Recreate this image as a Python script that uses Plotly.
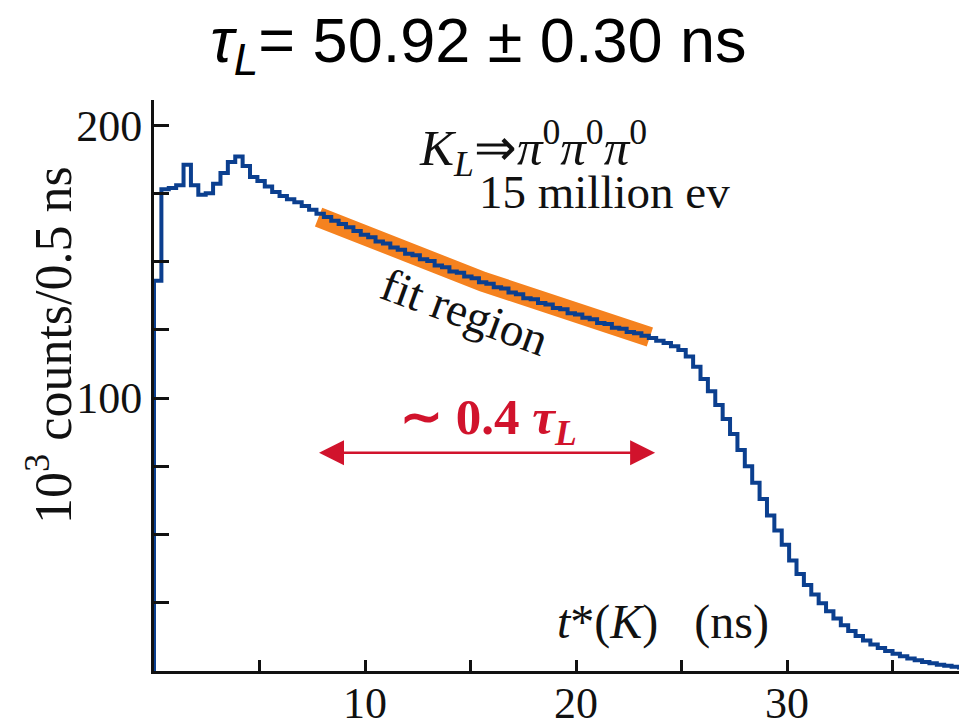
import numpy as np
import plotly.graph_objects as go

# ---------------- data ----------------
bin_width = 0.35  # ns per drawn bin
counts = [
    143.0, 176.5, 177.0, 178.0, 185.5, 178.0, 174.5, 175.0, 178.5, 182.5,
    186.5, 188.5, 185.0, 181.0, 179.5, 177.5, 175.5, 174.0, 172.8, 171.7,
    170.4, 169.0, 167.5, 166.3, 165.0, 163.8, 162.6, 161.2, 159.8, 158.9,
    157.4, 156.6, 155.2, 154.3, 152.9, 152.3, 150.9, 150.2, 148.6, 147.9,
    146.4, 145.9, 144.5, 143.9, 142.4, 141.9, 140.6, 140.1, 138.7, 138.0,
    136.6, 136.2, 134.8, 134.3, 133.0, 132.5, 131.1, 130.6, 129.4, 128.9,
    127.5, 127.1, 125.8, 125.4, 124.2, 123.7, 122.8, 122.0, 121.0, 120.2,
    119.0, 117.6, 115.2, 111.5, 107.0, 102.5, 97.5, 92.3, 86.8, 81.0,
    75.0, 69.0, 63.0, 57.0, 51.5, 46.3, 40.5, 35.5, 31.5, 28.0,
    24.8, 21.9, 19.2, 16.8, 14.7, 12.8, 11.2, 9.7, 8.4, 7.3,
    6.3, 5.4, 4.6, 3.9, 3.3, 2.8, 2.3, 1.9, 1.6, 1.3,
    1.1,
]

# exponential fit band (ns, 10^3 counts)
fit_t = [7.8, 15.6, 23.5]
fit_v = [166.3, 142.6, 122.4]

# "~0.4 tau_L" arrow span (ns) and level
arrow_t = [7.75, 23.75]
arrow_v = 80.0

x_tick_vals = [10, 20, 30]
x_tick_text = ["10", "20", "30"]
y_tick_vals = [100, 200]
y_tick_text = ["100", "200"]

# ---------------- figure ----------------
edges = np.arange(len(counts) + 1) * bin_width
xs = [0.0] + list(edges[:-1]) + [edges[-1]]
ys = [0.0] + counts + [counts[-1]]

SERIF = "Liberation Serif, Times New Roman, serif"
INK = "#111111"
BLUE = "#0b3f8f"
ORANGE = "#f5821f"
RED = "#d1132c"

fig = go.Figure()

fig.add_trace(go.Scatter(
    x=fit_t, y=fit_v, mode="lines",
    line=dict(color=ORANGE, width=20),
    hoverinfo="skip", showlegend=False,
))
fig.add_trace(go.Scatter(
    x=xs, y=ys, mode="lines", line_shape="hv",
    line=dict(color=BLUE, width=4),
    showlegend=False,
))

annotations = [
    dict(x=arrow_t[1], y=arrow_v, ax=arrow_t[0], ay=arrow_v,
         xref="x", yref="y", axref="x", ayref="y",
         showarrow=True, arrowhead=2, startarrowhead=2, arrowside="end+start",
         arrowsize=2.0, startarrowsize=2.0, arrowwidth=2.5, arrowcolor=RED, text=""),
    dict(x=15.83, y=91.5, xref="x", yref="y", showarrow=False,
         text="<b>∼ 0.4 <i>τ</i><sub><i>L</i></sub></b>",
         font=dict(family=SERIF, size=51, color=RED)),
    dict(x=14.74, y=131.5, xref="x", yref="y", showarrow=False,
         text="fit region", textangle=20,
         font=dict(family=SERIF, size=47, color=INK)),
    dict(x=12.45, y=191.5, xref="x", yref="y", showarrow=False, xanchor="left",
         text="<i>K</i><sub><i>L</i></sub>⇒<i>π</i><sup>0</sup><i>π</i><sup>0</sup><i>π</i><sup>0</sup>",
         font=dict(family=SERIF, size=51, color=INK)),
    dict(x=15.3, y=175.5, xref="x", yref="y", showarrow=False, xanchor="left",
         text="15 million ev",
         font=dict(family=SERIF, size=47, color=INK)),
    dict(x=19.0, y=18.0, xref="x", yref="y", showarrow=False, xanchor="left",
         text="<i>t</i>*(<i>K</i>)\u00a0\u00a0\u00a0(ns)",
         font=dict(family=SERIF, size=48, color=INK)),
    dict(x=-0.128, y=0.571, xref="paper", yref="paper", showarrow=False,
         xanchor="center", yanchor="middle",
         text="10<sup>3</sup> counts/0.5 ns", textangle=-90,
         font=dict(family=SERIF, size=52, color=INK)),
]

# The page body has an 8 px margin, so the figure is sized/offset to put the
# plot area at x 154..967, y 100..671 of the 967x723 window.
fig.update_layout(
    width=959, height=715,
    margin=dict(l=146, r=0, t=92, b=52, autoexpand=False),
    paper_bgcolor="white", plot_bgcolor="white",
    title=dict(
        text="<i>τ</i><sub><i>L</i></sub>= 50.92 ± 0.30 ns",
        xref="paper", x=0.399, xanchor="center", y=0.955, yanchor="middle",
        font=dict(family="Liberation Sans, Arial, sans-serif", size=63, color="black"),
    ),
    xaxis=dict(
        range=[0, 38.53], showgrid=False, zeroline=False, automargin=False,
        showline=True, linecolor=INK, linewidth=3,
        ticks="inside", ticklen=11, tickwidth=2.5, tickcolor=INK,
        tickvals=x_tick_vals, ticktext=x_tick_text, ticklabelstandoff=-9,
        minor=dict(ticks="inside", dtick=5, tick0=0, ticklen=11, tickwidth=2.5, tickcolor=INK),
        tickfont=dict(family=SERIF, size=44, color=INK),
    ),
    yaxis=dict(
        range=[0, 209.2], showgrid=False, zeroline=False, automargin=False,
        showline=True, linecolor=INK, linewidth=3,
        ticks="inside", ticklen=15, tickwidth=2.5, tickcolor=INK,
        tickvals=y_tick_vals, ticktext=y_tick_text,
        minor=dict(ticks="inside", dtick=25, tick0=0, ticklen=15, tickwidth=2.5, tickcolor=INK),
        tickfont=dict(family=SERIF, size=44, color=INK),
    ),
    annotations=annotations,
)

fig.write_html("out.html")
